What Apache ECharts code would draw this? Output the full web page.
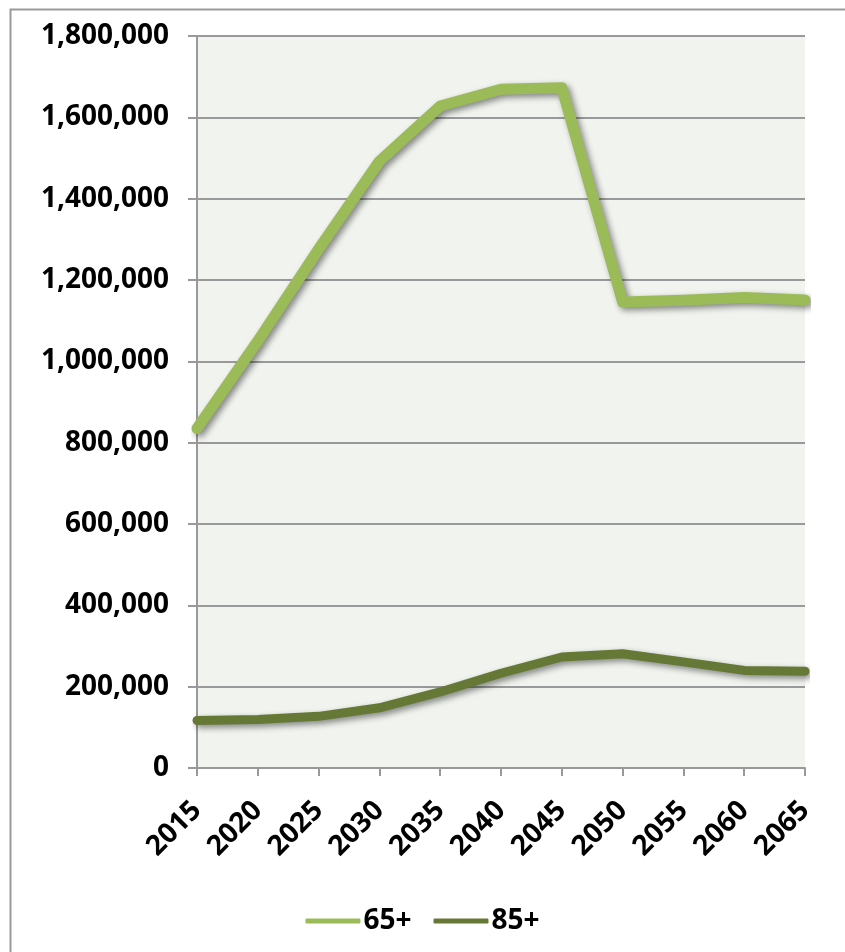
<!DOCTYPE html>
<html>
<head>
<meta charset="utf-8">
<script src="https://cdn.jsdelivr.net/npm/echarts@6/dist/echarts.min.js"></script>
<style>html,body{margin:0;padding:0;background:#fff;}#c{width:845px;height:952px;}</style>
</head>
<body>
<div id="c"></div>
<script>
const years = ['2015','2020','2025','2030','2035','2040','2045','2050','2055','2060','2065'];
const age65 = [835000, 1050000, 1276000, 1492000, 1628000, 1669000, 1673000, 1146000, 1150000, 1157000, 1151000];
const age85 = [117000, 119000, 127000, 148000, 187000, 233000, 273000, 281000, 261000, 240000, 238000];
const seriesNames = ['65+', '85+'];
const colors = ['#9BBB59', '#657835'];

const font = 'Noto Sans';
const chart = echarts.init(document.getElementById('c'), null, {renderer: 'canvas'});
const shadow = {shadowColor: 'rgba(0,0,0,0.45)', shadowBlur: 6, shadowOffsetX: 3, shadowOffsetY: 3};
chart.setOption({
  animation: false,
  graphic: [{
    type: 'rect', left: 8, top: 7, shape: {width: 900, height: 1000},
    style: {fill: 'none', stroke: '#999', lineWidth: 2}, silent: true
  }],
  grid: {left: 197, right: 40, top: 36, bottom: 184, show: true, backgroundColor: '#F0F3EE', borderWidth: 0},
  legend: {
    top: 902, left: 'center', itemWidth: 55, itemHeight: 5, itemGap: 22,
    icon: 'roundRect',
    textStyle: {fontFamily: font, fontWeight: 'bold', fontSize: 28, color: '#000', padding: [0,0,0,-2]},
    data: seriesNames
  },
  xAxis: {
    type: 'category', data: years, boundaryGap: false,
    axisLine: {lineStyle: {color: '#999', width: 2}},
    axisTick: {show: true, length: 8, lineStyle: {color: '#999', width: 2}},
    axisLabel: {rotate: 45, margin: 38, fontFamily: font, fontWeight: 'bold', fontSize: 28, color: '#000'},
    splitLine: {show: false}
  },
  yAxis: {
    type: 'value', min: 0, max: 1800000, interval: 200000,
    axisLine: {show: true, lineStyle: {color: '#999', width: 2}},
    axisTick: {show: true, length: 9, lineStyle: {color: '#999', width: 2}},
    axisLabel: {margin: 28, fontFamily: font, fontWeight: 'bold', fontSize: 28, color: '#000',
      formatter: v => v.toLocaleString('en-US')},
    splitLine: {show: true, lineStyle: {color: '#999', width: 2}}
  },
  series: [
    {name: seriesNames[0], type: 'line', data: age65, symbol: 'none', color: colors[0],
     lineStyle: Object.assign({width: 11, color: colors[0], join: 'round', cap: 'round'}, shadow)},
    {name: seriesNames[1], type: 'line', data: age85, symbol: 'none', color: colors[1],
     lineStyle: Object.assign({width: 9, color: colors[1], join: 'round', cap: 'round'}, shadow)}
  ]
});
</script>
</body>
</html>
